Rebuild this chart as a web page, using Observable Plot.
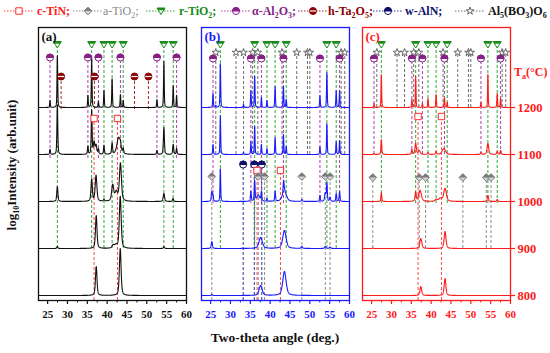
<!DOCTYPE html>
<html><head><meta charset="utf-8">
<script src="https://cdn.jsdelivr.net/npm/d3@7"></script>
<script src="https://cdn.jsdelivr.net/npm/@observablehq/plot@0.6"></script>
<style>
body{margin:0;background:#fff;}
#wrap{position:relative;width:550px;height:353px;font-family:"Liberation Serif","Times New Roman",serif;overflow:hidden;background:#fff}
.lgt{position:absolute;top:3px;font-size:12px;font-weight:bold;white-space:nowrap;line-height:16px}
sub{font-size:8px;vertical-align:-3px;line-height:0}
</style></head><body><div id="wrap"></div>
<script>
// ---------------- data ----------------
const temperatures = [800, 900, 1000, 1100, 1200];
const majorTicks = [25, 30, 35, 40, 45, 50, 55, 60];
const minorTicks = [27.5, 32.5, 37.5, 42.5, 47.5, 52.5, 57.5];

// reference peak positions (2theta, deg.)
const rTiO2 = [27.45, 36.1, 39.2, 41.25, 44.05, 54.3, 56.65];
const alphaAl2O3 = [25.6, 35.15, 37.8, 43.35, 52.55, 57.5];
const hTa2O5 = [28.4, 36.8, 46.9, 50.4];
const cTiN = [36.7, 42.6];
const aTiO2 = [25.3, 37.0, 38.6, 48.0, 53.9, 55.1];
const wAlN = [33.2, 36.0, 37.9];
const al5bo3o6 = [26.3, 31.4, 33.3, 35.6, 36.9, 43.0, 46.7, 49.4, 50.0, 57.9, 58.8];

// measured peaks per pattern: [2theta, intensity, fwhm], order 800..1200
const panelA = [
  [[37.25, 29, 0.45], [43.3, 47, 0.5]],
  [[27.45, 2, 0.3], [37.25, 33, 0.45], [41.5, 3, 0.6], [42.2, 3, 0.8], [43.3, 52, 0.55], [54.3, 2, 0.3]],
  [[27.45, 15, 0.35], [36.1, 22, 0.4], [37.2, 26, 0.5], [39.2, 2, 0.3], [41.4, 16, 0.6], [42.3, 9, 0.8], [43.35, 38, 0.6], [54.3, 8, 0.4], [56.6, 3, 0.3]],
  [[25.6, 5, 0.25], [27.45, 50, 0.25], [35.15, 8, 0.25], [36.1, 44, 0.25], [36.7, 12, 0.4], [37.2, 9, 0.4], [37.8, 5, 0.3], [39.2, 9, 0.25], [41.25, 11, 0.3], [42.9, 17, 1.0], [43.35, 5, 0.3], [44.05, 5, 0.3], [52.55, 4, 0.25], [54.3, 27, 0.3], [56.65, 10, 0.3], [57.5, 6, 0.25]],
  [[25.6, 7, 0.2], [27.45, 52, 0.2], [35.15, 12, 0.2], [36.1, 50, 0.2], [37.8, 6, 0.2], [39.2, 17, 0.2], [41.25, 29, 0.2], [43.35, 13, 0.2], [44.05, 7, 0.2], [52.55, 8, 0.2], [54.3, 46, 0.2], [56.65, 22, 0.2], [57.5, 12, 0.2]]
];
const panelB = [
  [[25.3, 1, 0.3], [37.6, 10, 0.9], [43.6, 24, 1.0]],
  [[25.3, 7, 0.35], [37.6, 11, 1.0], [43.6, 18, 1.0], [48.0, 2, 0.4], [53.9, 2, 0.4], [55.1, 1.5, 0.4]],
  [[25.3, 10, 0.3], [25.6, 6, 0.25], [27.45, 33, 0.2], [35.15, 10, 0.25], [36.1, 20, 0.25], [37.0, 6, 0.9], [37.8, 9, 0.25], [39.2, 3, 0.25], [41.25, 10, 0.25], [43.4, 12, 0.3], [43.6, 10, 1.2], [48.0, 2, 0.3], [52.55, 6, 0.25], [53.9, 8, 0.4], [54.3, 18, 0.25], [55.1, 4, 0.3], [56.65, 8, 0.25], [57.5, 10, 0.25]],
  [[25.6, 10, 0.2], [27.45, 39, 0.2], [33.3, 2, 0.2], [35.15, 13, 0.2], [36.1, 28, 0.2], [37.8, 10, 0.2], [39.2, 6, 0.2], [41.25, 17, 0.2], [43.35, 20, 0.2], [44.05, 8, 0.2], [52.55, 8, 0.2], [54.3, 31, 0.2], [56.65, 13, 0.2], [57.5, 14, 0.2]],
  [[25.6, 14, 0.2], [26.3, 2, 0.2], [27.45, 44, 0.2], [33.3, 3, 0.2], [35.15, 17, 0.2], [36.1, 31, 0.2], [37.8, 10, 0.2], [39.2, 7, 0.2], [41.25, 21, 0.2], [43.35, 21, 0.2], [44.05, 8, 0.2], [52.55, 12, 0.2], [54.3, 35, 0.2], [56.65, 17, 0.2], [57.5, 17, 0.2]]
];
const panelC = [
  [[37.4, 9, 0.5], [43.5, 17, 0.5]],
  [[25.3, 0.5, 0.3], [37.4, 10, 0.6], [43.5, 17, 0.55]],
  [[27.45, 9, 0.25], [36.1, 9, 0.35], [37.2, 11, 0.8], [41.3, 2, 0.6], [42.3, 3, 0.9], [43.5, 13, 0.8], [54.3, 6, 0.35], [56.65, 2, 0.3]],
  [[25.6, 1, 0.25], [27.45, 15, 0.25], [35.15, 5, 0.3], [36.1, 11, 0.4], [37.0, 4, 0.6], [39.2, 2, 0.3], [41.25, 3, 0.3], [43.2, 6, 1.0], [52.55, 2, 0.3], [54.3, 11, 0.5], [56.65, 3, 0.3], [57.5, 4, 0.3]],
  [[25.6, 4, 0.2], [27.45, 33, 0.18], [35.15, 8, 0.2], [36.1, 31, 0.18], [37.8, 4, 0.2], [39.2, 9, 0.2], [41.25, 13, 0.2], [43.35, 10, 0.2], [44.05, 5, 0.2], [52.55, 5, 0.2], [54.3, 33, 0.18], [56.65, 14, 0.2], [57.5, 9, 0.2]]
];

// ---------------- layout / style ----------------
const xDomain = [22.7, 60];
const yDomain = [-5, 268];
const spacing = 47;
const FONT = '"Liberation Serif","Times New Roman",serif';

const rad = s => Math.sqrt(s / Math.PI);
const halfTop = {draw(c, s) { const r = rad(s); c.moveTo(-r, 0); c.arc(0, 0, r, Math.PI, 2 * Math.PI); c.closePath(); }};
const hbar = {draw(c, s) { const r = rad(s); c.moveTo(-r * 0.9, 0); c.lineTo(r * 0.9, 0); }};
const triDown = {draw(c, s) { const r = rad(s); c.moveTo(-1.15 * r, -0.85 * r); c.lineTo(1.15 * r, -0.85 * r); c.lineTo(0, r); c.closePath(); }};
const triDownTop = {draw(c, s) { const r = rad(s); c.moveTo(-1.15 * r, -0.85 * r); c.lineTo(1.15 * r, -0.85 * r); c.lineTo(0.77 * r, -0.2 * r); c.lineTo(-0.77 * r, -0.2 * r); c.closePath(); }};
const diamond = {draw(c, s) { const r = rad(s); c.moveTo(0, -1.1 * r); c.lineTo(1.1 * r, 0); c.lineTo(0, 1.1 * r); c.lineTo(-1.1 * r, 0); c.closePath(); }};
const diamondTop = {draw(c, s) { const r = rad(s); c.moveTo(0, -1.1 * r); c.lineTo(1.1 * r, 0); c.lineTo(-1.1 * r, 0); c.closePath(); }};

const ST = {
  TiN: {line: "#ff4a4a", marks: [{symbol: "square", fill: "white", stroke: "#ff2a2a", r: 3.6}]},
  aTiO2: {line: "#8c8c8c", marks: [{symbol: diamond, fill: "#d4d4d4", stroke: "#7a7a7a"}, {symbol: diamondTop, fill: "#7a7a7a", stroke: "none"}]},
  rTiO2: {line: "#2fa82f", marks: [{symbol: triDown, fill: "white", stroke: "#1a8c1a"}, {symbol: triDownTop, fill: "#1a8c1a", stroke: "none"}]},
  Al2O3: {line: "#b03cb0", marks: [{symbol: "circle", fill: "white", stroke: "#8a1f8a"}, {symbol: halfTop, fill: "#8a1f8a", stroke: "#8a1f8a"}]},
  Ta2O5: {line: "#a52a2a", marks: [{symbol: "circle", fill: "#8b0000", stroke: "#8b0000"}, {symbol: hbar, fill: "none", stroke: "white", strokeWidth: 1.2}]},
  AlN: {line: "#33339a", marks: [{symbol: "circle", fill: "white", stroke: "#10106a"}, {symbol: halfTop, fill: "#10106a", stroke: "#10106a"}]},
  BO: {line: "#6e6e6e", marks: [{symbol: "star", fill: "white", stroke: "#5a5a5a", r: 2.4, strokeWidth: 0.9}]}
};

function curves(panel) {
  const out = [];
  const step = 0.02;
  panel.forEach((peaks, k) => {
    const off = k * spacing;
    for (let x = xDomain[0]; x <= xDomain[1] + 1e-9; x += step) {
      let y = 0;
      for (const [c, h, w] of peaks) {
        const t = (x - c) / w;
        y += h * (0.5 / (1 + 4 * t * t) + 0.5 * Math.exp(-2.7726 * t * t));
      }
      out.push({t: temperatures[k], x, y: off + y});
    }
  });
  return out;
}

function phaseLines(phases) {
  return phases.map(p => Plot.ruleX(p.pos, {x: d => d, y1: p.y2, y2: p.y1 - 3, stroke: p.st.line, strokeWidth: 1, strokeDasharray: "3,2"}));
}
function phaseMarkers(phases) {
  const m = [];
  for (const p of phases) for (const s of p.st.marks) m.push(Plot.dot(p.pos, {x: d => d, y: p.y1, r: 3.5, strokeWidth: 1, ...s}));
  return m;
}

function makePanel({data, color, label, phases, width, ml, mr, right}) {
  const marks = [
    ...phaseLines(phases),
    Plot.line(curves(data), {x: "x", y: "y", z: "t", stroke: color, strokeWidth: 1.1}),
    ...phaseMarkers(phases),
    Plot.frame({stroke: color, strokeWidth: 1.3}),
    Plot.axisX({ticks: majorTicks, tickSize: 4, tickPadding: 6, stroke: color, fill: color, fontSize: 11, fontWeight: "bold", label: null, strokeWidth: 1.2}),
    Plot.axisX({ticks: minorTicks, tickSize: 2.5, stroke: color, fill: "none", label: null, strokeWidth: 1}),
    Plot.text([label], {frameAnchor: "top-left", dx: 3, dy: 4, fill: color, fontSize: 13, fontWeight: "bold"})
  ];
  if (right) {
    const baselines = temperatures.map((t, i) => i * spacing);
    marks.push(Plot.axisY({anchor: "right", ticks: baselines, tickFormat: d => String(temperatures[Math.round(d / spacing)]), tickSize: 4, tickPadding: 3, stroke: color, fill: color, fontSize: 12.5, fontWeight: "bold", label: null, strokeWidth: 1.2}));
  }
  return Plot.plot({
    width, height: 313,
    marginLeft: ml, marginRight: mr, marginTop: 7, marginBottom: 33,
    x: {domain: xDomain},
    y: {domain: yDomain, axis: right ? undefined : null},
    style: {fontFamily: FONT, fontWeight: "bold", background: "transparent", overflow: "visible"},
    marks
  });
}

const wrap = document.getElementById("wrap");
function place(el, left, top) { el.style.position = "absolute"; el.style.left = left + "px"; el.style.top = top + "px"; wrap.appendChild(el); return el; }

const pa = makePanel({
  data: panelA, color: "#111111", label: "(a)", width: 190, ml: 38, mr: 4,
  phases: [
    {pos: rTiO2, st: ST.rTiO2, y1: 251, y2: 47},
    {pos: alphaAl2O3, st: ST.Al2O3, y1: 238, y2: 137},
    {pos: hTa2O5, st: ST.Ta2O5, y1: 219, y2: 186},
    {pos: cTiN, st: ST.TiN, y1: 177, y2: -5}
  ]
});
const pb = makePanel({
  data: panelB, color: "#1a1aff", label: "(b)", width: 162, ml: 11, mr: 3,
  phases: [
    {pos: rTiO2, st: ST.rTiO2, y1: 251, y2: 47},
    {pos: al5bo3o6, st: ST.BO, y1: 243, y2: 141},
    {pos: alphaAl2O3, st: ST.Al2O3, y1: 237, y2: 92},
    {pos: wAlN, st: ST.AlN, y1: 131, y2: -5},
    {pos: cTiN, st: ST.TiN, y1: 125, y2: -5},
    {pos: aTiO2, st: ST.aTiO2, y1: 119, y2: -5}
  ]
});
const pc = makePanel({
  data: panelC, color: "#ff1a1a", label: "(c)", width: 198, ml: 10, mr: 40, right: true,
  phases: [
    {pos: rTiO2, st: ST.rTiO2, y1: 251, y2: 92},
    {pos: al5bo3o6, st: ST.BO, y1: 243, y2: 188},
    {pos: alphaAl2O3, st: ST.Al2O3, y1: 237, y2: 141},
    {pos: cTiN, st: ST.TiN, y1: 179, y2: -5},
    {pos: aTiO2, st: ST.aTiO2, y1: 118, y2: 47}
  ]
});
place(pa, 0, 20); place(pb, 190, 20); place(pc, 352, 20);

// ---------------- legend ----------------
const legendItems = [
  {st: ST.TiN, x: 3, tx: 37, color: "#ff1a1a", bold: true, html: "c-TiN;"},
  {st: ST.aTiO2, x: 72, tx: 103, color: "#8a8a8a", bold: false, html: "a-TiO<sub>2</sub>;"},
  {st: ST.rTiO2, x: 145, tx: 179, color: "#1a8c1a", bold: true, html: "r-TiO<sub>2</sub>;"},
  {st: ST.Al2O3, x: 220, tx: 252, color: "#8a1f8a", bold: true, html: "&alpha;-Al<sub>2</sub>O<sub>3</sub>;"},
  {st: ST.Ta2O5, x: 297, tx: 328, color: "#8b0000", bold: true, html: "h-Ta<sub>2</sub>O<sub>5</sub>;"},
  {st: ST.AlN, x: 372, tx: 405, color: "#10106a", bold: true, html: "w-AlN;"},
  {st: ST.BO, x: 454, tx: 488, color: "#111", bold: true, html: "Al<sub>5</sub>(BO<sub>3</sub>)O<sub>6</sub>"}
];
for (const it of legendItems) {
  const svg = d3.create("svg").attr("width", 32).attr("height", 20);
  svg.append("line").attr("x1", 1).attr("x2", 31).attr("y1", 11).attr("y2", 11)
    .attr("stroke", it.st.line).attr("stroke-width", 1).attr("stroke-dasharray", "1.5,1.5");
  for (const s of it.st.marks) {
    const r = s.r || 3.5;
    const sym = typeof s.symbol === "string" ? {square: d3.symbolSquare, circle: d3.symbolCircle, star: d3.symbolStar}[s.symbol] : s.symbol;
    svg.append("path").attr("transform", "translate(16,11)").attr("d", d3.symbol(sym, r * r * Math.PI)())
      .attr("fill", s.fill).attr("stroke", s.stroke).attr("stroke-width", s.strokeWidth || 1);
  }
  place(svg.node(), it.x, 0);
  const sp = document.createElement("div");
  sp.className = "lgt"; sp.innerHTML = it.html; sp.style.color = it.color; sp.style.fontWeight = it.bold ? "bold" : "normal";
  place(sp, it.tx, 3);
}

// ---------------- titles ----------------
const xt = document.createElement("div");
xt.textContent = "Two-theta angle (deg.)";
xt.style.cssText = "width:550px;text-align:center;font-size:13.5px;font-weight:bold;color:#111;line-height:16px";
place(xt, 0, 330);

const yt = document.createElement("div");
yt.innerHTML = "log<sub>10</sub>Intensity (arb.unit)";
yt.style.cssText = "width:180px;text-align:center;font-size:13px;font-weight:bold;color:#111;line-height:16px;transform:rotate(-90deg);transform-origin:90px 8px";
place(yt, 12 - 90, 165 - 8);

const ta = document.createElement("div");
ta.innerHTML = "T<sub>a</sub>(&deg;C)";
ta.style.cssText = "font-size:12px;font-weight:bold;color:#ff1a1a;line-height:16px;white-space:nowrap";
place(ta, 514, 64);
</script></body></html>
